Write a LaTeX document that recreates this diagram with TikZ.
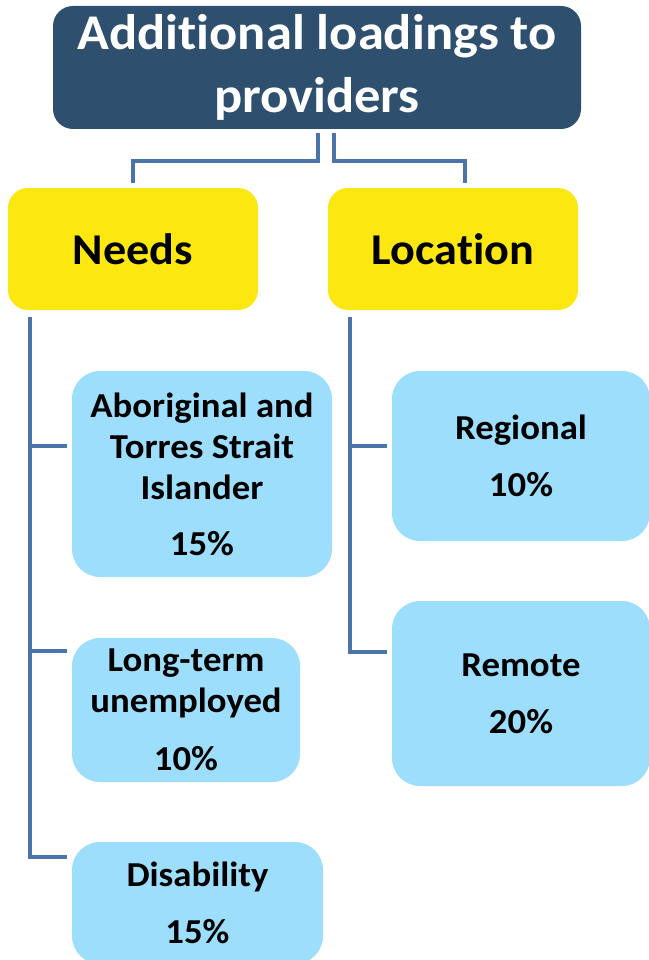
\documentclass[tikz,border=0pt]{standalone}
\usepackage{fontspec}
\setmainfont{Carlito}[FakeStretch=1.05,Ligatures=NoCommon]
\usetikzlibrary{calc}
\definecolor{titleblue}{HTML}{2E506E}
\definecolor{ybox}{HTML}{FCE810}
\definecolor{lbox}{HTML}{9DDEFD}
\definecolor{conncol}{HTML}{4A74AA}
\begin{document}
\begin{tikzpicture}[x=1pt,y=-1pt,
  titlebox/.style={fill=titleblue, text=white, rounded corners=20pt, inner sep=0pt, align=center,
    font=\fontsize{50}{63}\selectfont\bfseries},
  catbox/.style={fill=ybox, rounded corners=20pt, inner sep=0pt, align=center,
    minimum width=250pt, minimum height=122pt, font=\fontsize{44}{50}\selectfont\bfseries},
  itembox/.style={fill=lbox, rounded corners=28pt, inner sep=0pt, align=center,
    font=\fontsize{35}{41}\selectfont\bfseries},
  conn/.style={draw=conncol, line width=4.5pt}
]
\useasboundingbox (0,0) rectangle (648,960);

\node[titlebox, minimum width=528pt, minimum height=123pt] (title) at (317,67.5) {Additional loadings to\\providers};

\node[catbox] (needs) at (133,249) {Needs};
\node[catbox] (loc) at (453,249) {Location};

\node[itembox, minimum width=260pt, minimum height=206pt] (abo) at (202,474)
  {Aboriginal and\\Torres Strait\\Islander\\[15pt]15\%};
\node[itembox, minimum width=228pt, minimum height=144pt] (lt) at (186,710)
  {Long-term\\unemployed\\[17pt]10\%};
\node[itembox, minimum width=251pt, minimum height=122pt] (dis) at (197.5,903)
  {Disability\\[16pt]15\%};
\node[itembox, minimum width=258pt, minimum height=170pt] (reg) at (521,456)
  {Regional\\[16pt]10\%};
\node[itembox, minimum width=258pt, minimum height=185pt] (rem) at (521,693.5)
  {Remote\\[16pt]20\%};

% top connectors
\draw[conn] ($(title.south)+(1,4)$) |- ($(needs.north)+(0,-27)$) -- ($(needs.north)+(0,-5)$);
\draw[conn] ($(title.south)+(17,4)$) |- ($(loc.north)+(12,-27)$) -- ($(loc.north)+(12,-5)$);

% needs branch
\coordinate (ntop) at ($(needs.south west)+(22,7)$);
\coordinate (n1) at ($(abo.north west)+(-5,75)$);
\coordinate (n2) at ($(lt.north west)+(-5,13)$);
\coordinate (n3) at ($(dis.north west)+(-5,15)$);
\draw[conn] (ntop) |- (n3);
\draw[conn] (ntop |- n1) -- (n1);
\draw[conn] (ntop |- n2) -- (n2);

% location branch
\coordinate (ltop) at ($(loc.south west)+(22,7)$);
\coordinate (l1) at ($(reg.north west)+(-5,75)$);
\coordinate (l2) at ($(rem.north west)+(-5,51)$);
\draw[conn] (ltop) |- (l2);
\draw[conn] (ltop |- l1) -- (l1);
\end{tikzpicture}
\end{document}
